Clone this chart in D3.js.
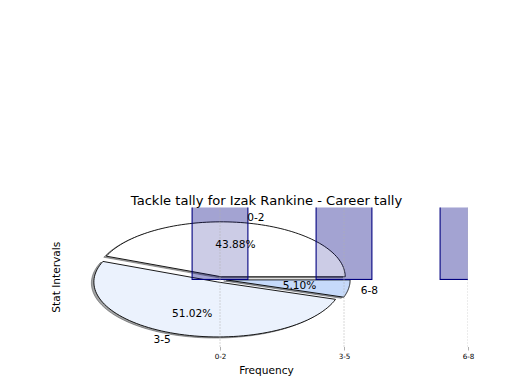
<!DOCTYPE html>
<html>
<head>
<meta charset="utf-8">
<script src="https://cdn.jsdelivr.net/npm/d3@7/dist/d3.min.js"></script>
<style>
  html, body { margin: 0; padding: 0; background: #ffffff; }
  svg text { font-family: "DejaVu Sans", sans-serif; fill: #000; }
</style>
</head>
<body>
<svg id="chart" width="520" height="390"></svg>
<script>
// ---- data ----
const categories = ["0-2", "3-5", "6-8"];
const counts = [43, 50, 5];               // tackles per stat interval (career)
const sliceColors = ["#ffffff", "#ebf2fd", "#c6dafa"];
const explode = [0.05, 0.05, 0.05];
const titleText = "Tackle tally for Izak Rankine - Career tally";
const xLabel = "Frequency";
const yLabel = "Stat Intervals";

// ---- layout ----
const svg = d3.select("#chart");
const axLeft = 65, axRight = 468, axTop = 207.5, axBottom = 347;

const x = d3.scaleLinear().domain([-1.25, 2.0]).range([axLeft, axRight]);
const y = d3.scaleLinear().domain([-1.23, 1.31]).range([axBottom, axTop]);

svg.append("defs").append("clipPath").attr("id", "axclip")
  .append("rect").attr("x", axLeft).attr("y", axTop)
  .attr("width", axRight - axLeft).attr("height", axBottom - axTop);

const plot = svg.append("g").attr("clip-path", "url(#axclip)");

const barWidth = 0.45;
function drawBars(layer, withStroke) {
  layer.selectAll("rect").data(counts).join("rect")
    .attr("x", (d, i) => x(i - barWidth / 2))
    .attr("width", x(barWidth) - x(0))
    .attr("y", d => y(d))
    .attr("height", d => y(0) - y(d))
    .attr("fill", "#000080").attr("fill-opacity", 0.2)
    .attr("stroke", withStroke ? "#000080" : "none")
    .attr("stroke-width", 1.1);
}

// lower bar layer
drawBars(plot.append("g"), false);

// pie (drawn in data coordinates, so it is squashed like the original)
const total = d3.sum(counts);
const arcs = d3.pie().sort(null).startAngle(0).endAngle(2 * Math.PI)(counts);
const line = d3.line().x(p => x(p[0])).y(p => y(p[1]));

function wedgePoints(a, i, dx, dy) {
  const tm = (a.startAngle + a.endAngle) / 2;
  const ox = explode[i] * Math.cos(tm) + dx, oy = explode[i] * Math.sin(tm) + dy;
  const n = 80, pts = [[ox, oy]];
  for (let k = 0; k <= n; k++) {
    const t = a.startAngle + (a.endAngle - a.startAngle) * k / n;
    pts.push([ox + Math.cos(t), oy + Math.sin(t)]);
  }
  pts.push([ox, oy]);
  return pts;
}

const shadowG = plot.append("g");
arcs.forEach((a, i) => {
  const c = d3.rgb(sliceColors[i]);
  const sc = d3.rgb(c.r * 0.3, c.g * 0.3, c.b * 0.3);
  shadowG.append("path")
    .attr("d", line(wedgePoints(a, i, -0.02, -0.02)))
    .attr("fill", sc).attr("fill-opacity", 0.5)
    .attr("stroke", sc).attr("stroke-opacity", 0.5).attr("stroke-width", 1);
});
const wedgeG = plot.append("g");
arcs.forEach((a, i) => {
  wedgeG.append("path")
    .attr("d", line(wedgePoints(a, i, 0, 0)))
    .attr("fill", sliceColors[i])
    .attr("stroke", "#000").attr("stroke-width", 0.9)
    .attr("stroke-linejoin", "round");
});

// upper bar layer
drawBars(plot.append("g"), true);

// grid lines (dotted)
plot.append("g").selectAll("line").data(categories).join("line")
  .attr("x1", (d, i) => x(i)).attr("x2", (d, i) => x(i))
  .attr("y1", axTop).attr("y2", axBottom)
  .attr("stroke", "#b0b0b0").attr("stroke-width", 1)
  .attr("stroke-dasharray", "1,2");

// pie labels
const labG = svg.append("g");
arcs.forEach((a, i) => {
  const tm = (a.startAngle + a.endAngle) / 2;
  const ox = explode[i] * Math.cos(tm), oy = explode[i] * Math.sin(tm);
  const lx = ox + 1.1 * Math.cos(tm), ly = oy + 1.1 * Math.sin(tm);
  labG.append("text")
    .attr("x", x(lx)).attr("y", y(ly))
    .attr("text-anchor", lx > 0 ? "start" : "end")
    .attr("dominant-baseline", "central")
    .attr("font-size", "10.6px")
    .text(categories[i]);
  const px = ox + 0.6 * Math.cos(tm), py = oy + 0.6 * Math.sin(tm);
  labG.append("text")
    .attr("x", x(px)).attr("y", y(py))
    .attr("text-anchor", "middle")
    .attr("dominant-baseline", "central")
    .attr("font-size", "10.6px")
    .text((100 * counts[i] / total).toFixed(2) + "%");
});

// x axis
const xAxis = d3.axisBottom(x)
  .tickValues(categories.map((d, i) => i))
  .tickFormat(i => categories[i])
  .tickSize(3.5).tickPadding(3.5);
const ax = svg.append("g").attr("transform", `translate(0,${axBottom})`).call(xAxis);
ax.select(".domain").remove();
ax.selectAll(".tick line").attr("stroke", "#b0b0b0");
ax.selectAll(".tick text").attr("font-size", "7.2px")
  .attr("font-family", "DejaVu Sans, sans-serif").attr("fill", "#000");

// titles
svg.append("text")
  .attr("x", (axLeft + axRight) / 2).attr("y", 204.5)
  .attr("text-anchor", "middle").attr("font-size", "13.1px")
  .text(titleText);
svg.append("text")
  .attr("x", (axLeft + axRight) / 2).attr("y", 374)
  .attr("text-anchor", "middle").attr("font-size", "10.6px")
  .text(xLabel);
svg.append("text")
  .attr("transform", `translate(60,${(axTop + axBottom) / 2}) rotate(-90)`)
  .attr("text-anchor", "middle").attr("font-size", "10.6px")
  .text(yLabel);
</script>
</body>
</html>
